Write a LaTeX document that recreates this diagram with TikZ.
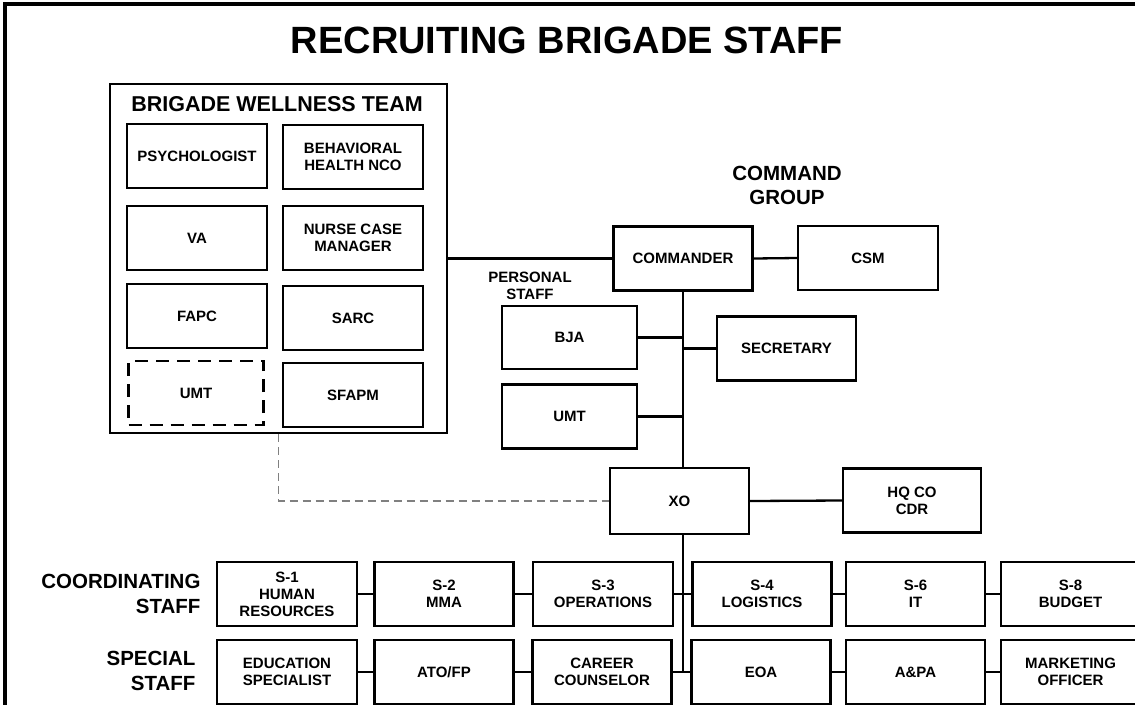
\documentclass[tikz,border=0pt]{standalone}
\usepackage{fontspec}
\setmainfont{Liberation Sans}
\begin{document}
\begin{tikzpicture}[
		x=1pt, y=-1pt,
		every node/.style={font=\fontsize{15pt}{17pt}\selectfont\bfseries, align=center},
		box/.style={draw, line width=2.3pt, minimum width=139pt, minimum height=64pt, inner sep=0pt},
		link/.style={line width=2.3pt},
		heading/.style={font=\fontsize{20.5pt}{24pt}\selectfont\bfseries}
		]
		\useasboundingbox (0,0) rectangle (1135,705);
		\draw [line width=3.2pt] (1135,4) -- (5,4) -- (5,705);
		\node (title) at (567,40) {\fontsize{38pt}{42pt}\selectfont RECRUITING BRIGADE STAFF};

		% wellness team
		\node [draw, line width=2.3pt, minimum width=337pt, minimum height=349pt] (wellness) at (278.5,258.5) {};
		\node [heading, font=\fontsize{21.5pt}{24pt}\selectfont\bfseries] (welltitle) at (277,104) {BRIGADE WELLNESS TEAM};
		\node [box, minimum width=140pt] (psych) at (197,156) {PSYCHOLOGIST};
		\node [box, minimum width=140pt] (bhnco) at (353,157) {BEHAVIORAL\\HEALTH NCO};
		\node [box, minimum width=140pt] (va) at (197,238) {VA};
		\node [box, minimum width=140pt] (ncm) at (353,238) {NURSE CASE\\MANAGER};
		\node [box, minimum width=140pt] (fapc) at (197,316) {FAPC};
		\node [box, minimum width=140pt] (sarc) at (353,318) {SARC};
		\node [box, minimum width=135pt, solid, dash pattern=on 13pt off 8pt] (umtw) at (196,393) {UMT};
		\node [box, minimum width=140pt] (sfapm) at (353,395) {SFAPM};

		% command group
		\node [heading] (cmdgroup) at (787,185) {COMMAND\\GROUP};
		\node [box] (cmdr) at (683,258.5) {COMMANDER};
		\node [box, minimum width=140pt] (csm) at (868,258) {CSM};
		\node (perstaff) at (530,286) {\fontsize{15pt}{18pt}\selectfont PERSONAL\\STAFF};
		\node [box, minimum width=135pt, minimum height=63pt] (bja) at (569.5,337.5) {BJA};
		\node [box] (sec) at (786.5,348.5) {SECRETARY};
		\node [box, minimum width=135pt] (umtp) at (569.5,416.5) {UMT};
		\node [box, minimum height=66pt] (xo) at (679.5,501) {XO};
		\node [box, minimum width=138pt] (hqco) at (912,500.5) {HQ CO\\CDR};

		% coordinating / special staff
		\node [heading, anchor=east, align=right, font=\fontsize{20.5pt}{25pt}\selectfont\bfseries] (coordlbl) at (204,594) {COORDINATING\\STAFF};
		\node [heading, anchor=east, align=right, font=\fontsize{20.5pt}{25pt}\selectfont\bfseries] (speclbl) at (199,671) {SPECIAL\\STAFF};
		\node [box, minimum width=140pt] (s1) at (287,594) {S-1\\HUMAN\\RESOURCES};
		\node [box] (s2) at (444,594) {S-2\\MMA};
		\node [box, minimum width=140pt] (s3) at (603,594) {S-3\\OPERATIONS};
		\node [box] (s4) at (762,594) {S-4\\LOGISTICS};
		\node [box] (s6) at (915.5,594) {S-6\\IT};
		\node [box] (s8) at (1070.5,594) {S-8\\BUDGET};
		\node [box, minimum width=140pt] (edu) at (287,672) {EDUCATION\\SPECIALIST};
		\node [box] (ato) at (444,672) {ATO/FP};
		\node [box] (career) at (602,672) {CAREER\\COUNSELOR};
		\node [box] (eoa) at (761,672) {EOA};
		\node [box] (apa) at (915.5,672) {A\&PA};
		\node [box] (mkt) at (1070.5,672) {MARKETING\\OFFICER};

		\draw [link] (wellness.east) -- (cmdr.west);
		\draw [link] (cmdr.east) -- (csm.west);
		\draw [link] (cmdr.south) -- (cmdr.south |- xo.north);
		\draw [link] (cmdr.south |- xo.south) -- (cmdr.south |- career.east);
		\draw [link] (bja.east) -- (bja.east -| cmdr.south);
		\draw [link] (sec.west) -- (sec.west -| cmdr.south);
		\draw [link] (umtp.east) -- (umtp.east -| cmdr.south);
		\draw [link] (xo.east) -- (hqco.west);
		\draw [line width=1.6pt, gray, dash pattern=on 8pt off 5pt] (wellness.south) |- (xo.west);
		\draw [link] (s1.east) -- (s2.west);
		\draw [link] (s2.east) -- (s3.west);
		\draw [link] (s3.east) -- (s4.west);
		\draw [link] (s4.east) -- (s6.west);
		\draw [link] (s6.east) -- (s8.west);
		\draw [link] (edu.east) -- (ato.west);
		\draw [link] (ato.east) -- (career.west);
		\draw [link] (career.east) -- (eoa.west);
		\draw [link] (eoa.east) -- (apa.west);
		\draw [link] (apa.east) -- (mkt.west);
	\end{tikzpicture}
\end{document}
